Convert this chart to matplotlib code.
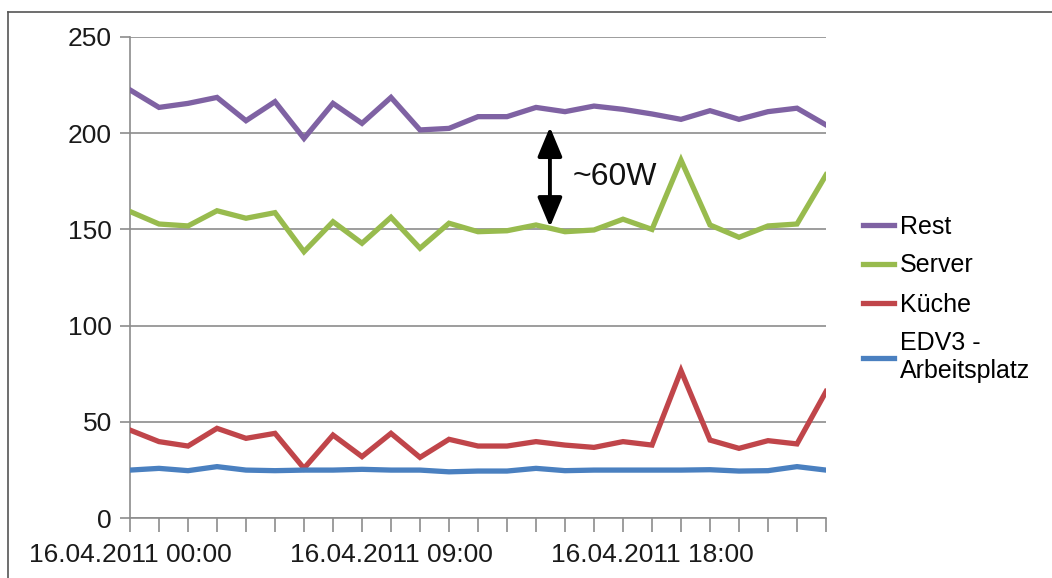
import matplotlib
matplotlib.use("Agg")
import matplotlib.pyplot as plt
from matplotlib.lines import Line2D

# hourly readings, 16.04.2011 00:00 .. 17.04.2011 00:00
hours = list(range(25))
tick_labels = {0: "16.04.2011 00:00", 9: "16.04.2011 09:00", 18: "16.04.2011 18:00"}

rest = [222.5, 213.4, 215.5, 218.6, 206.5, 216.4, 197.3, 215.5, 205.1, 218.6, 201.7, 202.5, 208.6,
        208.6, 213.4, 211.2, 214.1, 212.4, 210.0, 207.2, 211.7, 207.2, 211.2, 213.0, 204.3]
server = [159.3, 152.8, 151.8, 159.7, 155.8, 158.7, 138.4, 154.0, 142.8, 156.3, 140.2, 153.2, 148.8,
          149.3, 152.3, 148.8, 149.7, 155.3, 150.0, 186.0, 152.3, 145.9, 151.8, 152.8, 178.3]
kueche = [45.7, 39.7, 37.4, 46.6, 41.4, 44.0, 25.8, 43.1, 31.9, 44.0, 31.5, 40.9, 37.4,
          37.4, 39.7, 37.9, 36.7, 39.7, 37.9, 76.6, 40.5, 36.2, 40.2, 38.5, 65.7]
edv3 = [24.9, 25.8, 24.6, 26.7, 24.9, 24.6, 24.9, 24.9, 25.3, 24.9, 24.9, 24.0, 24.4,
        24.4, 25.8, 24.6, 24.9, 24.9, 24.9, 24.9, 25.1, 24.4, 24.6, 26.7, 24.9]

series = [("Rest", rest, "#7f62a3"), ("Server", server, "#98bb4e"),
          ("Küche", kueche, "#c0454a"), ("EDV3 -\nArbeitsplatz", edv3, "#4a80c0")]

FONT = ["Liberation Sans Narrow", "Liberation Sans", "DejaVu Sans"]
GRID = "#8c8c8c"

fig = plt.figure(figsize=(10.52, 5.78), dpi=100)
ax = fig.add_axes([130 / 1052, 1 - 518 / 578, 696 / 1052, 481 / 578])

for name, vals, col in series:
    ax.plot(hours, vals, color=col, lw=3.8, label=name, solid_joinstyle="miter", zorder=3)

ax.set_xlim(0, 24)
ax.set_ylim(0, 250)
ax.set_yticks([0, 50, 100, 150, 200, 250])
ax.set_xticks(hours)
ax.set_xticklabels([tick_labels.get(h, "") for h in hours])
ax.yaxis.grid(True, color=GRID, lw=1.2)
ax.set_axisbelow(True)
for s in ("top", "right"):
    ax.spines[s].set_visible(False)
for s in ("left", "bottom"):
    ax.spines[s].set_color(GRID)
    ax.spines[s].set_linewidth(1.2)
ax.tick_params(axis="x", direction="out", length=10, width=1.2, color=GRID, pad=8)
ax.tick_params(axis="y", direction="out", length=7, width=1.2, color=GRID, pad=6)
for lab in ax.get_xticklabels() + ax.get_yticklabels():
    lab.set_family(FONT)
    lab.set_fontsize(19)
    lab.set_color("#1a1a1a")

# ~60W gap marker
ax.annotate("", xy=(14.48, 203.2), xytext=(14.48, 151.2),
            arrowprops=dict(arrowstyle="<|-|>,head_length=1.8,head_width=0.75",
                            color="black", lw=2.8, shrinkA=0, shrinkB=0))
ax.text(15.25, 177, "~60W", fontsize=23, family=["Liberation Sans", "DejaVu Sans"],
        va="center", ha="left", color="#111111")

handles = [Line2D([], [], color=c, lw=3.8) for _, _, c in series]
leg = fig.legend(handles, [n for n, _, _ in series], loc="upper left",
                 bbox_to_anchor=(840 / 1052, 1 - 192 / 578), frameon=False,
                 handlelength=1.25, handletextpad=0.25, labelspacing=0.6,
                 prop={"family": FONT, "size": 18})

# outer chart frame (top and left edges)
fig.add_artist(Line2D([8 / 1052, 1], [1 - 12 / 578, 1 - 12 / 578], color="#555555", lw=1.2))
fig.add_artist(Line2D([8 / 1052, 8 / 1052], [0, 1 - 12 / 578], color="#555555", lw=1.2))

fig.savefig("out.png", dpi=100)
